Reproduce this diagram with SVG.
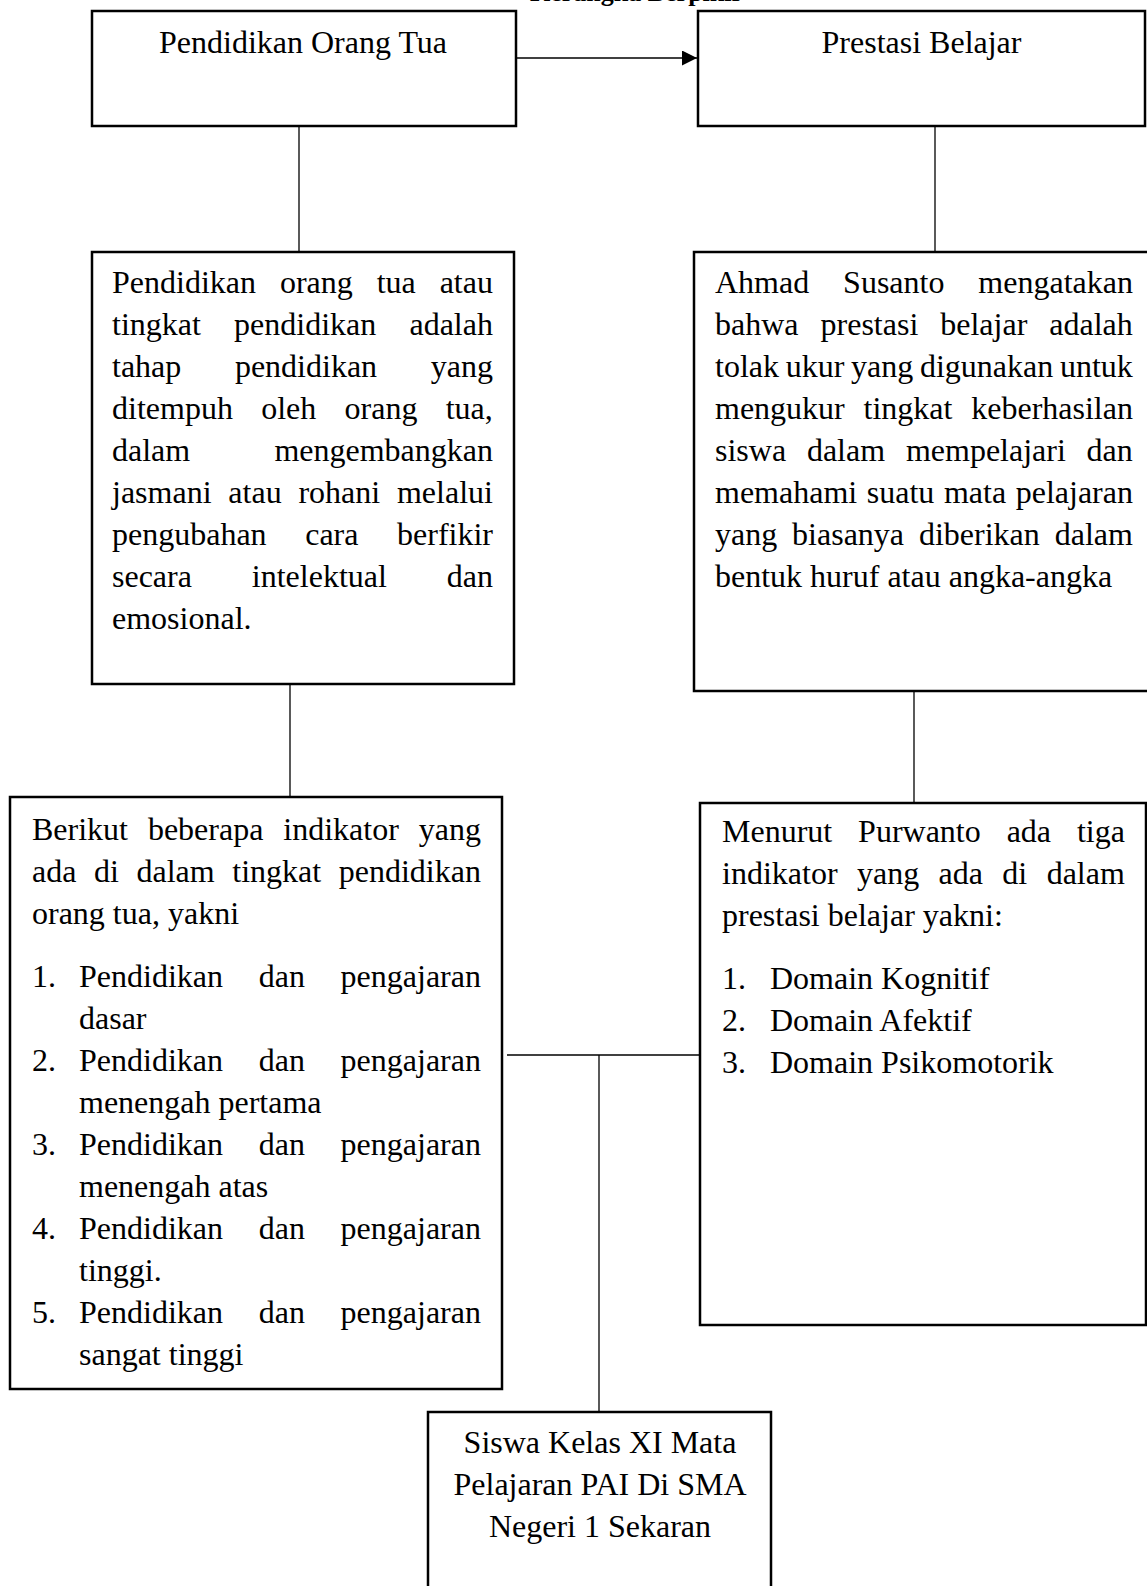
<svg xmlns="http://www.w3.org/2000/svg" width="1147" height="1586" viewBox="0 0 1147 1586">
<style>
.box{fill:#fff;stroke:#000;stroke-width:2.5}
.t{font-family:"Liberation Serif","Times New Roman",serif;font-size:32px;fill:#000}
.c{text-anchor:middle}
.ttl{font-family:"Liberation Serif","Times New Roman",serif;font-size:26px;font-weight:bold;fill:#000}
.ln{stroke:#000;stroke-width:1.3;fill:none}
</style>
<defs>
<marker id="ah" markerUnits="userSpaceOnUse" markerWidth="16" markerHeight="16" refX="15" refY="7.5" orient="auto">
<path d="M0,0 L15,7.5 L0,15 Z" fill="#000"/>
</marker>
</defs>
<rect width="1147" height="1586" fill="#fff"/>
<text class="ttl" x="530" y="0.5">Kerangka Berpikir</text>

<g id="connectors">
<line class="ln" x1="516" y1="58" x2="697" y2="58" marker-end="url(#ah)"/>
<line class="ln" x1="299" y1="126" x2="299" y2="252"/>
<line class="ln" x1="935" y1="126" x2="935" y2="252"/>
<line class="ln" x1="290" y1="684" x2="290" y2="797"/>
<line class="ln" x1="914" y1="691" x2="914" y2="803"/>
<line class="ln" x1="507" y1="1055" x2="700" y2="1055"/>
<line class="ln" x1="599" y1="1055" x2="599" y2="1412"/>
</g>

<g id="node-pendidikan">
<rect class="box" x="92" y="11" width="424" height="115"/>
<text class="t c" x="303" y="53">Pendidikan Orang Tua</text>
</g>

<g id="node-prestasi">
<rect class="box" x="698" y="11" width="447" height="115"/>
<text class="t c" x="921.5" y="53">Prestasi Belajar</text>
</g>

<g id="node-def-pendidikan">
<rect class="box" x="92" y="252" width="422" height="432"/>
<text class="t" x="112" y="293" style="word-spacing:15.9px">Pendidikan orang tua atau</text>
<text class="t" x="112" y="335" style="word-spacing:25.2px">tingkat pendidikan adalah</text>
<text class="t" x="112" y="377" style="word-spacing:45.6px">tahap pendidikan yang</text>
<text class="t" x="112" y="419" style="word-spacing:20.3px">ditempuh oleh orang tua,</text>
<text class="t" x="112" y="461" style="word-spacing:76.2px">dalam mengembangkan</text>
<text class="t" x="112" y="503" style="word-spacing:8.8px">jasmani atau rohani melalui</text>
<text class="t" x="112" y="545" style="word-spacing:30.6px">pengubahan cara berfikir</text>
<text class="t" x="112" y="587" style="word-spacing:51.9px">secara intelektual dan</text>
<text class="t" x="112" y="629">emosional.</text>
</g>

<g id="node-def-prestasi">
<rect class="box" x="694" y="252" width="462" height="439"/>
<text class="t" x="715" y="293" style="word-spacing:25.9px">Ahmad Susanto mengatakan</text>
<text class="t" x="715" y="335" style="word-spacing:14px">bahwa prestasi belajar adalah</text>
<text class="t" x="715" y="377" style="word-spacing:-1.3px">tolak ukur yang digunakan untuk</text>
<text class="t" x="715" y="419" style="word-spacing:10.8px">mengukur tingkat keberhasilan</text>
<text class="t" x="715" y="461" style="word-spacing:12.8px">siswa dalam mempelajari dan</text>
<text class="t" x="715" y="503" style="word-spacing:1.6px">memahami suatu mata pelajaran</text>
<text class="t" x="715" y="545" style="word-spacing:6.9px">yang biasanya diberikan dalam</text>
<text class="t" x="715" y="587">bentuk huruf atau angka-angka</text>
</g>

<g id="node-indikator-pendidikan">
<rect class="box" x="10" y="797" width="492" height="592"/>
<text class="t" x="32" y="840" style="word-spacing:11.9px">Berikut beberapa indikator yang</text>
<text class="t" x="32" y="882" style="word-spacing:9.6px">ada di dalam tingkat pendidikan</text>
<text class="t" x="32" y="924">orang tua, yakni</text>
<text class="t" x="32" y="987">1.</text>
<text class="t" x="79" y="987" style="word-spacing:27.7px">Pendidikan dan pengajaran</text>
<text class="t" x="79" y="1029">dasar</text>
<text class="t" x="32" y="1071">2.</text>
<text class="t" x="79" y="1071" style="word-spacing:27.7px">Pendidikan dan pengajaran</text>
<text class="t" x="79" y="1113">menengah pertama</text>
<text class="t" x="32" y="1155">3.</text>
<text class="t" x="79" y="1155" style="word-spacing:27.7px">Pendidikan dan pengajaran</text>
<text class="t" x="79" y="1197">menengah atas</text>
<text class="t" x="32" y="1239">4.</text>
<text class="t" x="79" y="1239" style="word-spacing:27.7px">Pendidikan dan pengajaran</text>
<text class="t" x="79" y="1281">tinggi.</text>
<text class="t" x="32" y="1323">5.</text>
<text class="t" x="79" y="1323" style="word-spacing:27.7px">Pendidikan dan pengajaran</text>
<text class="t" x="79" y="1365">sangat tinggi</text>
</g>

<g id="node-indikator-prestasi">
<rect class="box" x="700" y="803" width="446" height="522"/>
<text class="t" x="722" y="842" style="word-spacing:17.9px">Menurut Purwanto ada tiga</text>
<text class="t" x="722" y="884" style="word-spacing:11.4px">indikator yang ada di dalam</text>
<text class="t" x="722" y="926">prestasi belajar yakni:</text>
<text class="t" x="722" y="989">1.</text>
<text class="t" x="770" y="989">Domain Kognitif</text>
<text class="t" x="722" y="1031">2.</text>
<text class="t" x="770" y="1031">Domain Afektif</text>
<text class="t" x="722" y="1073">3.</text>
<text class="t" x="770" y="1073">Domain Psikomotorik</text>
</g>

<g id="node-siswa">
<rect class="box" x="428" y="1412" width="343" height="200"/>
<text class="t c" x="600" y="1453">Siswa Kelas XI Mata</text>
<text class="t c" x="600" y="1495">Pelajaran PAI Di SMA</text>
<text class="t c" x="600" y="1537">Negeri 1 Sekaran</text>
</g>
</svg>
